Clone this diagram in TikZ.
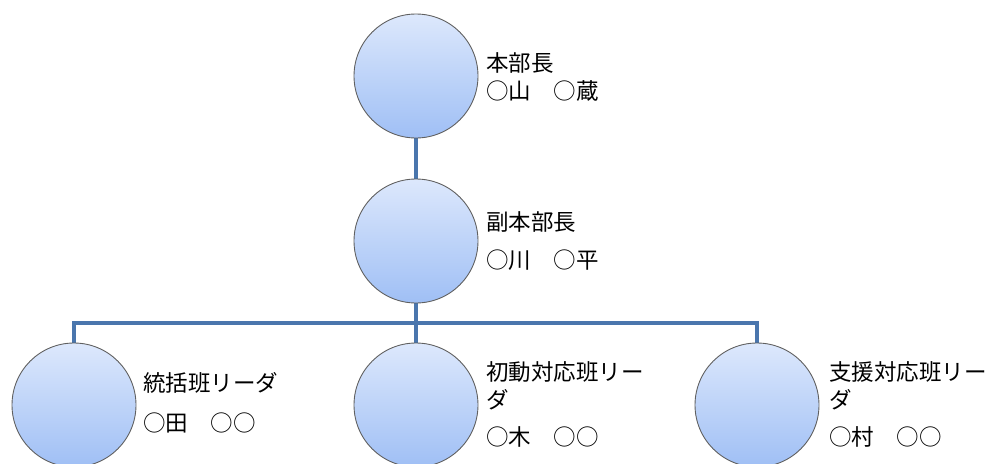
\documentclass[tikz,border=0pt]{standalone}
\usepackage{fontspec}
\newfontfamily\jp{Noto Sans CJK JP}
\definecolor{ctop}{HTML}{DDE8FC}
\definecolor{cbot}{HTML}{9FBFF5}
\definecolor{cline}{HTML}{4A76AD}
\definecolor{cedge}{HTML}{606060}
\begin{document}
\begin{tikzpicture}[x=1pt,y=-1pt,
  person/.style={circle,minimum size=124pt,inner sep=0pt,draw=cedge,line width=0.9pt,top color=ctop,bottom color=cbot,shading angle=0},
  lbl/.style={anchor=west,align=left,font=\jp\fontsize{22.5pt}{27pt}\selectfont,inner sep=0pt},
  conn/.style={draw=cline,line width=3.8pt}]
\useasboundingbox (0,0) rectangle (998,463);
\coordinate (p1) at (416,76);
\coordinate (p2) at (416,241);
\coordinate (p3) at (74,405);
\coordinate (p4) at (416,405);
\coordinate (p5) at (757,405);
\coordinate (hl) at (74,323);
\coordinate (hr) at (757,323);
\draw[conn] (p1) -- (p2);
\draw[conn] (p2) -- (p4);
\draw[conn] (p3) -- (hl) -- (hr) -- (p5);
\node[person] (c1) at (p1) {};
\node[person] (c2) at (p2) {};
\node[person] (c3) at (p3) {};
\node[person] (c4) at (p4) {};
\node[person] (c5) at (p5) {};
\node[lbl] (t1a) at (486,63) {本部長};
\node[lbl] (t1b) at (486,91) {○山　○蔵};
\node[lbl] (t2a) at (486,222) {副本部長};
\node[lbl] (t2b) at (486,260) {○川　○平};
\node[lbl] (t3a) at (143,383) {統括班リーダ};
\node[lbl] (t3b) at (143,423) {○田　○○};
\node[lbl] (t4a) at (486,372) {初動対応班リー};
\node[lbl] (t4c) at (486,400) {ダ};
\node[lbl] (t4b) at (486,437) {○木　○○};
\node[lbl] (t5a) at (829,372) {支援対応班リー};
\node[lbl] (t5c) at (829,400) {ダ};
\node[lbl] (t5b) at (829,437) {○村　○○};
\end{tikzpicture}
\end{document}
